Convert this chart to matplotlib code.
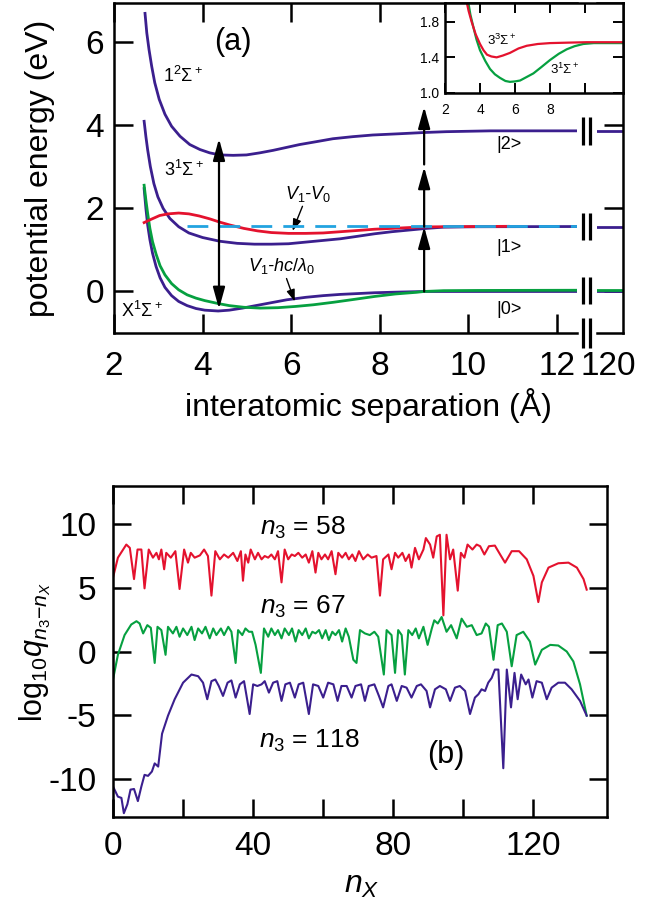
import matplotlib
matplotlib.use("Agg")
import matplotlib.pyplot as plt
from matplotlib import transforms

plt.rcParams['font.family'] = ['Liberation Sans', 'DejaVu Sans']
plt.rcParams['mathtext.fontset'] = 'custom'
plt.rcParams['mathtext.rm'] = 'Liberation Sans'
plt.rcParams['mathtext.it'] = 'Liberation Sans:italic'
plt.rcParams['mathtext.bf'] = 'Liberation Sans:bold'
plt.rcParams['axes.unicode_minus'] = False

PURPLE = '#3b1f8e'
RED = '#e4122e'
GREEN = '#06a040'
CYAN = '#22a3e0'

# ---------------- panel (a): potential curves, R in Angstrom, E in eV ----------------
R_12S = [2.70, 2.74, 2.79, 2.85, 2.92, 3.02, 3.15, 3.30, 3.49, 3.71, 3.94, 4.16, 4.39, 4.69,
         4.99, 5.29, 5.59, 5.89, 6.19, 6.57, 6.94, 7.39, 7.84, 8.44, 9.0, 9.5, 10.0, 10.5, 12.5]
E_12S = [6.70, 6.23, 5.83, 5.43, 5.03, 4.63, 4.27, 3.98, 3.74, 3.54, 3.42, 3.34, 3.29, 3.28,
         3.29, 3.34, 3.40, 3.47, 3.54, 3.61, 3.68, 3.73, 3.77, 3.80, 3.83, 3.85, 3.86, 3.87, 3.87]

R_31S = [2.68, 2.72, 2.76, 2.82, 2.90, 2.99, 3.11, 3.26, 3.46, 3.69, 4.0, 4.39, 4.78, 5.17,
         5.55, 5.94, 6.33, 6.72, 7.11, 7.50, 7.88, 8.27, 8.66, 9.05, 9.44, 10.21, 12.5]
E_31S = [4.10, 3.73, 3.41, 3.01, 2.60, 2.28, 2.00, 1.76, 1.56, 1.41, 1.30, 1.21, 1.16, 1.14,
         1.14, 1.15, 1.19, 1.23, 1.27, 1.33, 1.39, 1.44, 1.48, 1.52, 1.55, 1.56, 1.565]

R_33S = [2.68, 2.84, 3.03, 3.22, 3.46, 3.69, 3.92, 4.16, 4.39, 4.62, 4.93, 5.24, 5.55, 5.94,
         6.33, 6.72, 7.11, 7.50, 7.88, 8.27, 8.66, 9.0, 9.44, 10.2, 10.9]
E_33S = [1.66, 1.74, 1.83, 1.87, 1.89, 1.87, 1.82, 1.75, 1.67, 1.60, 1.52, 1.46, 1.42, 1.40,
         1.40, 1.41, 1.44, 1.47, 1.50, 1.52, 1.54, 1.555, 1.56, 1.565, 1.57]

R_X = [2.68, 2.72, 2.76, 2.81, 2.87, 2.95, 3.04, 3.15, 3.30, 3.46, 3.65, 3.85, 4.05, 4.35,
       4.6, 4.9, 5.2, 5.55, 5.9, 6.33, 6.72, 7.11, 7.5, 7.88, 8.4, 9.0, 10.2, 12.5]
E_X = [2.48, 2.00, 1.60, 1.25, 0.92, 0.60, 0.33, 0.10, -0.10, -0.24, -0.34, -0.41, -0.45, -0.47,
       -0.45, -0.40, -0.34, -0.27, -0.20, -0.14, -0.10, -0.07, -0.05, -0.03, -0.015, 0.0, 0.0, 0.0]

R_DRESS = [2.68, 2.72, 2.76, 2.81, 2.87, 2.95, 3.04, 3.15, 3.30, 3.46, 3.65, 3.85, 4.05, 4.35,
           4.6, 4.93, 5.3, 5.7, 6.1, 6.5, 6.95, 7.42, 7.88, 8.35, 8.82, 9.0, 9.44, 10.2, 12.5]
E_DRESS = [2.56, 2.20, 1.88, 1.52, 1.20, 0.90, 0.62, 0.40, 0.19, 0.04, -0.08, -0.16, -0.22, -0.29,
           -0.34, -0.38, -0.40, -0.39, -0.36, -0.32, -0.26, -0.19, -0.12, -0.06, -0.02, 0.0, 0.02,
           0.025, 0.03]

R_DIFF_START, R_DIFF_END = 3.65, 12.5
E_DIFF = 1.58

# asymptotic energies of |0>, |1>, |2> (shown beyond the axis break, near R = 120)
E_INF_X, E_INF_DRESS, E_INF_1, E_INF_2 = 0.0, 0.03, 1.565, 3.87

# transitions: double arrow at the inner turning region, ladder at R = 9
R_VERT = 4.37
E_VERT = (-0.42, 3.68)
R_LADDER = 9.0
LADDER = [(0.0, 1.56), (1.56, 3.0), (3.06, 4.45)]

# inset: 3^3Sigma+ and 3^1Sigma+
RI_33S = [3.24, 3.35, 3.52, 3.75, 4.0, 4.2, 4.4, 4.65, 4.95, 5.3, 5.71, 6.2, 6.67, 7.3, 8.0,
          9.0, 10.1, 12.2]
EI_33S = [2.02, 1.92, 1.80, 1.66, 1.55, 1.48, 1.43, 1.41, 1.40, 1.42, 1.45, 1.50, 1.53, 1.55,
          1.56, 1.565, 1.57, 1.57]
RI_31S = [3.33, 3.45, 3.62, 3.8, 4.0, 4.3, 4.57, 4.85, 5.14, 5.45, 5.71, 6.0, 6.29, 6.67, 7.05,
          7.5, 8.0, 8.5, 8.95, 9.4, 9.9, 10.5, 12.2]
EI_31S = [2.02, 1.88, 1.74, 1.60, 1.48, 1.36, 1.27, 1.21, 1.17, 1.135, 1.125, 1.13, 1.14, 1.18,
          1.22, 1.29, 1.37, 1.44, 1.49, 1.525, 1.55, 1.56, 1.56]

# ---------------- panel (b): log10 q vs n_X ----------------
n58 = [0, 1.4, 3.8, 4.8, 6, 7, 8.1, 9, 10.2, 11.4,
       12.4, 13.1, 13.8, 14.6, 15.2, 16.5, 17.8, 19, 20.3, 21.4,
       22.2, 23.3, 24.8, 26, 27.1, 28.1, 29.2, 30.5, 31.7, 32.9,
       34.3, 35.5, 36.5, 37.1, 37.8, 38.6, 39.3, 40.5, 41.4, 42.4,
       43.3, 44.3, 45.2, 46.2, 47.1, 48.1, 49, 50, 51, 51.9,
       52.9, 54, 55, 55.9, 56.9, 57.8, 58.6, 59.5, 60.5, 61.4,
       62.4, 63.5, 64.3, 65.4, 66.4, 67.3, 68.3, 69.2, 70.2, 71.4,
       72.7, 73.8, 75.2, 76.2, 77.1, 78.6, 79.5, 80.5, 81.4, 82.6,
       83.5, 84.5, 85.2, 86.2, 87.3, 88.6, 89.3, 90.5, 91.4, 92.4,
       93.3, 94.3, 95.2, 96.2, 97.1, 98.4, 99.3, 100.3, 101.2, 102.6,
       103.8, 104.8, 106, 107.3, 109, 110.5, 111.9, 113.8, 115.9, 118.1,
       120, 121.4, 122.4, 124.3, 127.1, 130, 132.4, 134.3, 135.2]
q58 = [5.81, 7.37, 8.40, 8.14, 5.69, 8.01, 8.01, 4.96, 8.01, 7.37,
       7.75, 7.24, 8.01, 6.46, 7.75, 7.37, 7.88, 4.91, 8.01, 6.98,
       7.75, 7.37, 7.55, 8.01, 7.50, 4.39, 7.88, 7.24, 7.62, 7.37,
       7.75, 7.11, 7.88, 5.56, 7.62, 6.98, 8.01, 7.24, 7.75, 7.24,
       7.50, 7.37, 7.62, 7.24, 7.88, 5.43, 8.01, 7.24, 7.62, 7.50,
       7.75, 7.37, 7.62, 6.98, 7.88, 6.20, 7.75, 7.24, 7.62, 7.24,
       7.88, 6.07, 7.75, 7.37, 7.75, 7.24, 7.62, 7.11, 7.88, 7.24,
       7.62, 7.37, 7.50, 4.39, 7.24, 7.62, 6.46, 7.75, 7.37, 7.75,
       7.11, 7.62, 6.59, 8.14, 7.24, 8.01, 8.91, 8.40, 7.37, 9.04,
       9.17, 2.84, 9.17, 7.24, 8.01, 4.78, 7.75, 7.37, 8.40, 8.01,
       8.40, 8.27, 7.62, 8.27, 8.32, 7.62, 6.98, 7.88, 7.88, 7.24,
       5.94, 3.88, 5.43, 6.59, 6.93, 6.98, 6.59, 5.69, 4.86]

n67 = [0, 1.4, 3.3, 5.2, 6.7, 7.6, 8.6, 9.8, 10.8, 11.9,
       12.7, 13.8, 15, 15.7, 17.1, 18.1, 19, 20, 21.2, 22.4,
       23.3, 24.3, 25.4, 26.4, 27.6, 28.6, 29.5, 30.8, 31.7, 32.9,
       33.8, 35, 35.7, 36.9, 37.8, 38.8, 39.7, 40.7, 42.2, 43.1,
       44.3, 45.2, 46.2, 47.1, 48.1, 49, 50.2, 51.1, 52.1, 53,
       54, 55, 55.9, 56.9, 57.8, 58.8, 59.7, 60.7, 61.6, 62.6,
       63.5, 64.5, 65.4, 66.4, 67.3, 68.6, 69.5, 70.5, 71.9, 73.3,
       74.6, 75.7, 77.3, 78.1, 79.5, 80.5, 81.4, 82.4, 83.3, 84.3,
       85.4, 86.4, 87.3, 88.6, 89.8, 91, 91.7, 92.7, 93.8, 95.2,
       96.5, 98.1, 99.5, 101, 102.4, 103.8, 105.2, 106.4, 107.3, 108.6,
       109.8, 111, 112.4, 113.8, 115.2, 117.1, 119, 120.5, 122.4, 124.8,
       127.1, 129.5, 131.4, 133.3, 135.2]
q67 = [-2.20, -0.26, 1.29, 2.12, 2.38, 2.20, 1.42, 2.07, 1.86, -0.90,
       1.94, 1.68, -0.26, 1.94, 1.42, 1.94, 1.16, 1.81, 1.29, 1.94,
       0.90, 1.81, 1.42, 1.94, 1.03, 1.81, 1.29, 1.81, 1.29, 1.94,
       1.55, -0.90, 1.68, 1.29, 1.81, 1.55, 1.55, 0.52, -1.68, 1.81,
       1.16, 1.81, 1.29, 1.68, 1.03, 1.81, 1.29, 1.81, 0.78, 1.68,
       1.29, 1.81, 1.03, 1.55, 1.42, 1.68, 1.03, 1.68, 0.90, 1.55,
       1.29, 1.68, 0.78, 1.81, 1.16, -0.65, -0.90, 1.68, 1.42, 1.29,
       1.55, 1.16, -1.81, 1.68, 1.29, -1.68, 1.68, 1.29, -1.81, 1.68,
       1.29, 1.81, 1.03, 1.94, 0.52, 1.81, 2.45, 2.20, 2.71, 1.55,
       2.07, 1.03, 2.58, 1.94, 2.07, 1.29, 1.42, 2.20, 1.94, -0.65,
       2.07, 2.20, 1.55, -1.16, 1.29, 1.55, 0.78, -1.03, 0.13, 0.52,
       0.47, 0.0, -0.78, -2.58, -5.04]

n118 = [0, 1.4, 2.4, 3.1, 4.1, 5, 6, 7.1, 8.1, 9,
        10, 11.1, 11.9, 12.9, 14, 15.7, 17.6, 20, 22.4, 24.3,
        25.7, 26.9, 28.1, 29.2, 30.2, 31.4, 32.7, 33.8, 35, 36.2,
        37.4, 39, 40, 41.2, 42.4, 43.3, 44.5, 45.7, 46.9, 48.1,
        49.2, 50.5, 51.9, 53.0, 54.3, 55.9, 57.1, 58.6, 60, 61.4,
        62.9, 64.1, 65.2, 66.7, 68.1, 69.2, 70.8, 71.9, 73, 74.6,
        75.9, 77.1, 78.6, 79.5, 81, 82.4, 83.8, 85.2, 86.7, 87.9,
        89.5, 90.5, 91.9, 93.3, 95, 96.2, 97.6, 99, 100.5, 101.9,
        103.3, 104.3, 105.2, 106.2, 107.1, 108.1, 109, 110, 111.4, 112.4,
        113.6, 114.6, 115.5, 116.5, 117.8, 118.6, 119.7, 120.9, 122.4, 123.8,
        125.2, 127.1, 129, 130.9, 133.3, 135.2]
q118 = [-10.6, -11.4, -11.5, -12.7, -12.0, -10.85, -10.8, -11.75, -10.6, -9.69,
        -9.77, -9.43, -8.79, -9.04, -6.46, -5.04, -3.75, -2.45, -1.81, -1.94,
        -2.45, -3.75, -2.33, -2.20, -2.71, -3.49, -2.45, -2.27, -3.62, -2.58,
        -2.33, -4.91, -2.58, -2.71, -2.58, -2.33, -3.23, -2.45, -2.33, -3.88,
        -2.58, -2.45, -3.62, -2.58, -2.45, -4.91, -2.58, -2.71, -3.62, -2.45,
        -2.58, -3.88, -2.71, -2.71, -3.62, -2.71, -2.58, -3.88, -2.71, -2.58,
        -3.49, -4.39, -2.71, -2.58, -3.88, -2.71, -2.84, -3.62, -2.71, -2.58,
        -3.10, -4.39, -2.97, -2.71, -2.97, -3.88, -2.84, -2.71, -3.10, -4.91,
        -3.62, -3.36, -2.97, -3.10, -2.45, -2.07, -1.42, -1.42, -9.17, -1.42,
        -4.39, -1.68, -3.75, -1.81, -2.58, -2.20, -3.62, -2.33, -2.45, -3.75,
        -2.84, -2.45, -2.45, -2.97, -3.88, -5.04]

W, H = 650, 915
fig = plt.figure(figsize=(W / 100, H / 100), dpi=100)


def box(x0, y0, x1, y1):
    """Figure-fraction rectangle from pixel corners (top-left origin)."""
    return [x0 / W, 1 - y1 / H, (x1 - x0) / W, (y1 - y0) / H]


SPINE = 1.8
TICKFS = 24

# ---- panel (a), main part and the part beyond the axis break ----
axA = fig.add_axes(box(114, 3, 577, 333))
axB = fig.add_axes(box(597, 3, 623, 333))
axI = fig.add_axes(box(445, 3, 623, 93))

CURVE_LW = 2.0
axA.plot(R_12S, E_12S, color=PURPLE, lw=CURVE_LW, zorder=3)
axA.plot(R_31S, E_31S, color=PURPLE, lw=CURVE_LW, zorder=3)
axA.plot(R_X, E_X, color=PURPLE, lw=CURVE_LW, zorder=3)
axA.plot(R_DRESS, E_DRESS, color=GREEN, lw=CURVE_LW, zorder=4)
axA.plot(R_33S, E_33S, color=RED, lw=CURVE_LW, zorder=4)
axA.plot([R_DIFF_START, R_DIFF_END], [E_DIFF, E_DIFF], color=CYAN, lw=2.0,
         dashes=(7.5, 4), zorder=5)

axA.set_xlim(2, 12.45)
axA.set_ylim(-1, 6.95)
axA.set_xticks([2, 4, 6, 8, 10, 12])
axA.set_yticks([0, 2, 4, 6])
axA.tick_params(axis='both', direction='in', length=14, width=SPINE, labelsize=TICKFS,
                top=True, right=False)
axA.tick_params(axis='x', pad=13)
axA.tick_params(axis='y', pad=7)
axA.spines['right'].set_visible(False)
for s in ('left', 'bottom', 'top'):
    axA.spines[s].set_linewidth(SPINE)

for lev, col in ((E_INF_2, PURPLE), (E_INF_1, PURPLE), (E_INF_X, PURPLE), (E_INF_DRESS, GREEN)):
    axB.axhline(lev, color=col, lw=CURVE_LW)
axB.set_xlim(119, 121.4)
axB.set_ylim(-1, 6.95)
axB.set_xticks([120])
axB.set_yticks([0, 2, 4, 6])
axB.yaxis.tick_right()
axB.tick_params(axis='y', direction='in', length=14, width=SPINE, labelright=False)
axB.tick_params(axis='x', length=0, labelsize=TICKFS, pad=13)
axB.spines['left'].set_visible(False)
for s in ('right', 'bottom', 'top'):
    axB.spines[s].set_linewidth(SPINE)

# axis-break marks ("||") on each asymptote and on the R axis
brk = transforms.blended_transform_factory(axA.transAxes, axA.transData)
for lev in (E_INF_2, E_INF_1, 0.02):
    for bx in (1.014, 1.029):
        axA.plot([bx, bx], [lev - 0.33, lev + 0.33], color='k', lw=2.3, transform=brk,
                 clip_on=False, solid_capstyle='butt', zorder=6)
for bx in (1.014, 1.029):
    axA.plot([bx, bx], [-0.046, 0.046], color='k', lw=2.3, transform=axA.transAxes,
             clip_on=False, solid_capstyle='butt', zorder=6)

# transitions
big_head = dict(color='k', lw=1.6, shrinkA=0, shrinkB=0, mutation_scale=20)
axA.annotate('', xy=(R_VERT, E_VERT[1]), xytext=(R_VERT, E_VERT[0]),
             arrowprops=dict(arrowstyle='<|-|>,head_length=0.65,head_width=0.18', **big_head),
             zorder=7)
for e0, e1 in LADDER:
    axA.annotate('', xy=(R_LADDER, e1), xytext=(R_LADDER, e0),
                 arrowprops=dict(arrowstyle='-|>,head_length=0.65,head_width=0.18', **big_head),
                 zorder=7)

# labels inside panel (a)
LBL = 13
axA.text(4.68, 6.0, '(a)', fontsize=22, ha='center', va='center')
axA.text(3.55, 5.2, r'1$^2\Sigma^+$', fontsize=LBL, ha='center', va='center')
axA.text(3.57, 2.93, r'3$^1\Sigma^+$', fontsize=LBL, ha='center', va='center')
axA.text(2.15, -0.46, r'X$^1\Sigma^+$', fontsize=LBL, ha='left', va='center')
small_head = dict(arrowstyle='-|>,head_length=0.7,head_width=0.25', color='k', lw=1.0,
                  shrinkA=0, shrinkB=0, mutation_scale=10)
axA.annotate(r'$V_1$-$V_0$', xy=(6.03, 1.46), xytext=(6.37, 2.36), fontsize=LBL,
             style='italic', ha='center', va='center', arrowprops=small_head)
axA.annotate(r'$V_1$-$hc/\lambda_0$', xy=(6.08, -0.24), xytext=(5.79, 0.62), fontsize=LBL,
             style='italic', ha='center', va='center', arrowprops=small_head)
axA.text(10.91, 3.53, '|2>', fontsize=LBL, ha='center', va='center')
axA.text(10.91, 1.07, '|1>', fontsize=LBL, ha='center', va='center')
axA.text(10.91, -0.44, '|0>', fontsize=LBL, ha='center', va='center')

fig.text(40 / W, 1 - 168 / H, 'potential energy (eV)', fontsize=23, rotation=90,
         ha='center', va='center')
fig.text(368 / W, 1 - 405 / H, 'interatomic separation (\u00c5)', fontsize=23,
         ha='center', va='center')

# ---- inset ----
axI.set_facecolor('white')
axI.plot(RI_31S, EI_31S, color=GREEN, lw=1.6)
axI.plot(RI_33S, EI_33S, color=RED, lw=1.6)
axI.set_xlim(2, 12.17)
axI.set_ylim(1.0, 2.01)
axI.set_xticks([2, 4, 6, 8, 10])
axI.set_xticklabels(['2', '4', '6', '8', ''])
axI.set_yticks([1.0, 1.4, 1.8])
axI.set_yticklabels(['1.0', '1.4', '1.8'])
axI.tick_params(direction='in', length=7, width=1.4, labelsize=10, top=True, right=True)
axI.tick_params(axis='x', pad=7)
axI.tick_params(axis='y', pad=4)
for s in axI.spines.values():
    s.set_linewidth(SPINE)
axI.text(5.26, 1.59, r'3$^3\Sigma^+$', fontsize=9.5, ha='center', va='center')
axI.text(8.86, 1.26, r'3$^1\Sigma^+$', fontsize=9.5, ha='center', va='center')

# ---- panel (b) ----
axC = fig.add_axes(box(113, 486, 607, 817))
SER_LW = 1.5
axC.plot(n58, q58, color=RED, lw=SER_LW)
axC.plot(n67, q67, color=GREEN, lw=SER_LW)
axC.plot(n118, q118, color=PURPLE, lw=SER_LW)
axC.set_xlim(0, 141)
axC.set_ylim(-13, 13)
axC.set_xticks([0, 20, 40, 60, 80, 100, 120])
axC.set_xticklabels(['0', '', '40', '', '80', '', '120'])
axC.set_yticks([-10, -5, 0, 5, 10])
axC.tick_params(direction='in', length=13, width=SPINE, labelsize=TICKFS, top=True, right=True)
axC.tick_params(axis='x', pad=10)
axC.tick_params(axis='y', pad=12)
for s in axC.spines.values():
    s.set_linewidth(SPINE)

axC.text(54.3, 9.15, r'$n_3$ = 58', fontsize=19, ha='center', va='baseline')
axC.text(54.3, 2.95, r'$n_3$ = 67', fontsize=19, ha='center', va='baseline')
axC.text(56.0, -7.6, r'$n_3$ = 118', fontsize=19, ha='center', va='baseline')
axC.text(94.9, -8.14, '(b)', fontsize=22, ha='center', va='center')

fig.text(35 / W, 1 - 652 / H, r'log$_{\mathrm{10}}q_{n_3\mathrm{-}n_X}$', fontsize=22,
         rotation=90, ha='center', va='center')
fig.text(362 / W, 1 - 885 / H, r'$n_X$', fontsize=23, ha='center', va='center')

fig.savefig('out.png', dpi=100)
